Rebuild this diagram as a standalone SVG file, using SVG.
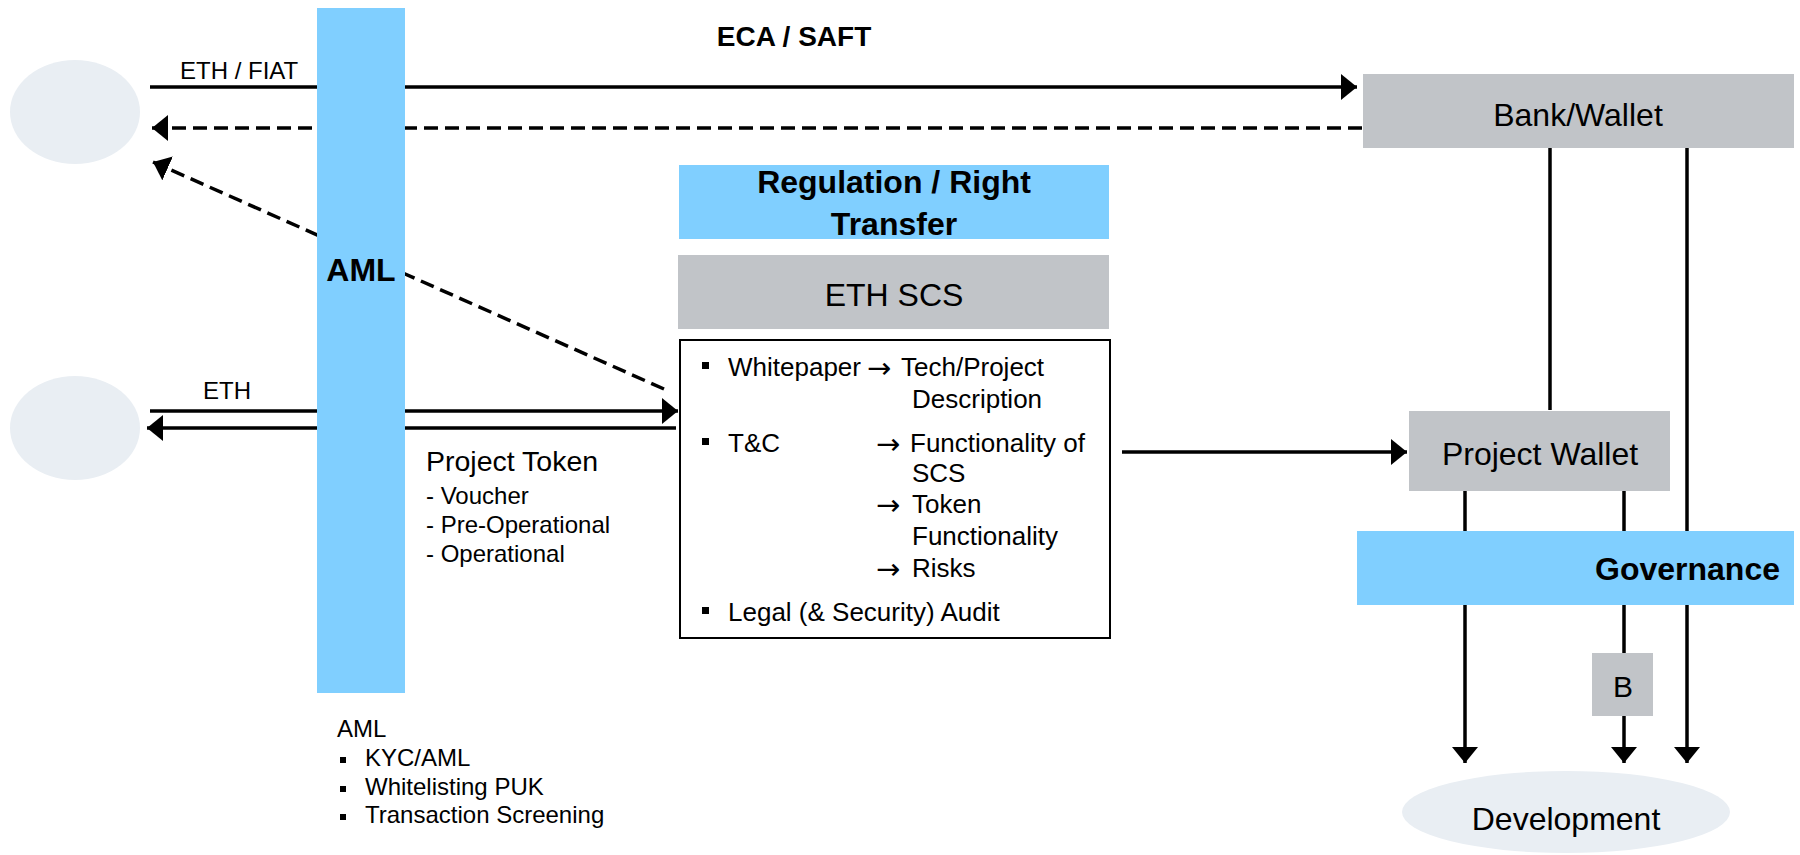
<svg xmlns="http://www.w3.org/2000/svg" width="1800" height="855" viewBox="0 0 1800 855">
<defs>
<marker id="ah" markerUnits="userSpaceOnUse" markerWidth="18" markerHeight="28" refX="16" refY="13" orient="auto">
<path d="M0,0 L16,13 L0,26 z" fill="#000"/>
</marker>
<style>
text{font-family:"Liberation Sans",Arial,sans-serif;fill:#000}
.b{font-weight:bold}
.arr{font-family:"DejaVu Sans",sans-serif}
.blue{fill:#80CFFF}
.gray{fill:#C1C4C8}
.oval{fill:#E9EEF3}
.ln{stroke:#000;stroke-width:3.5;fill:none}
.dash{stroke:#000;stroke-width:3.5;fill:none;stroke-dasharray:14 7}
</style>
</defs>
<rect width="1800" height="855" fill="#fff"/>

<g id="connectors">
<line class="ln" x1="150" y1="87" x2="1357" y2="87" marker-end="url(#ah)"/>
<line class="dash" x1="1362" y1="128" x2="152" y2="128" marker-end="url(#ah)"/>
<line class="dash" x1="664" y1="389" x2="153" y2="162" marker-end="url(#ah)"/>
<line class="ln" x1="150" y1="411" x2="678" y2="411" marker-end="url(#ah)"/>
<line class="ln" x1="676" y1="428" x2="147" y2="428" marker-end="url(#ah)"/>
<line class="ln" x1="1122" y1="452" x2="1407" y2="452" marker-end="url(#ah)"/>
<line class="ln" x1="1550" y1="148" x2="1550" y2="410"/>
<line class="ln" x1="1687" y1="148" x2="1687" y2="763" marker-end="url(#ah)"/>
<line class="ln" x1="1465" y1="491" x2="1465" y2="763" marker-end="url(#ah)"/>
<line class="ln" x1="1624" y1="491" x2="1624" y2="763" marker-end="url(#ah)"/>
<text x="180" y="79" font-size="24">ETH / FIAT</text>
<text x="203" y="399" font-size="24">ETH</text>
<text x="794" y="46" font-size="28" class="b" text-anchor="middle">ECA / SAFT</text>
</g>

<g id="investor1"><ellipse class="oval" cx="75" cy="112" rx="65" ry="52"/></g>
<g id="investor2"><ellipse class="oval" cx="75" cy="428" rx="65" ry="52"/></g>

<g id="aml-bar">
<rect class="blue" x="317" y="8" width="88" height="685"/>
<text x="361" y="281" font-size="32" class="b" text-anchor="middle">AML</text>
</g>

<g id="project-token">
<text x="426" y="471" font-size="28.5">Project Token</text>
<text x="426" y="504" font-size="24">- Voucher</text>
<text x="426" y="533" font-size="24">- Pre-Operational</text>
<text x="426" y="562" font-size="24">- Operational</text>
</g>

<g id="aml-notes">
<text x="337" y="737" font-size="24">AML</text>
<rect x="340" y="757" width="6" height="6"/>
<text x="365" y="766" font-size="24">KYC/AML</text>
<rect x="340" y="786" width="6" height="6"/>
<text x="365" y="795" font-size="24">Whitelisting PUK</text>
<rect x="340" y="814" width="6" height="6"/>
<text x="365" y="823" font-size="24">Transaction Screening</text>
</g>

<g id="regulation">
<rect class="blue" x="679" y="165" width="430" height="74"/>
<text x="894" y="193" font-size="32" class="b" text-anchor="middle">Regulation / Right</text>
<text x="894" y="235" font-size="32" class="b" text-anchor="middle">Transfer</text>
</g>

<g id="eth-scs">
<rect class="gray" x="678" y="255" width="431" height="74"/>
<text x="894" y="306" font-size="32" text-anchor="middle">ETH SCS</text>
</g>

<g id="content">
<rect x="680" y="340" width="430" height="298" fill="#fff" stroke="#000" stroke-width="2"/>
<g font-size="26">
<rect x="702" y="362" width="7" height="7"/>
<text x="728" y="376">Whitepaper</text>
<text class="arr" x="867" y="378" font-size="29">→</text>
<text x="901" y="376">Tech/Project</text>
<text x="912" y="408">Description</text>
<rect x="702" y="438" width="7" height="7"/>
<text x="728" y="452">T&amp;C</text>
<text class="arr" x="876" y="454" font-size="29">→</text>
<text x="910" y="452">Functionality of</text>
<text x="912" y="482">SCS</text>
<text class="arr" x="876" y="515" font-size="29">→</text>
<text x="912" y="513">Token</text>
<text x="912" y="545">Functionality</text>
<text class="arr" x="876" y="579" font-size="29">→</text>
<text x="912" y="577">Risks</text>
<rect x="702" y="607" width="7" height="7"/>
<text x="728" y="621">Legal (&amp; Security) Audit</text>
</g>
</g>

<g id="bank-wallet">
<rect class="gray" x="1363" y="74" width="431" height="74"/>
<text x="1578" y="126" font-size="32" text-anchor="middle">Bank/Wallet</text>
</g>

<g id="project-wallet">
<rect class="gray" x="1409" y="411" width="261" height="80"/>
<text x="1540" y="465" font-size="32" text-anchor="middle">Project Wallet</text>
</g>

<g id="governance">
<rect class="blue" x="1357" y="531" width="437" height="74"/>
<text x="1780" y="580" font-size="32" class="b" text-anchor="end">Governance</text>
</g>

<g id="b">
<rect class="gray" x="1592" y="653" width="61" height="63"/>
<text x="1623" y="697" font-size="30" text-anchor="middle">B</text>
</g>

<g id="development">
<ellipse class="oval" cx="1566" cy="812" rx="164" ry="41"/>
<text x="1566" y="830" font-size="32" text-anchor="middle">Development</text>
</g>
</svg>
